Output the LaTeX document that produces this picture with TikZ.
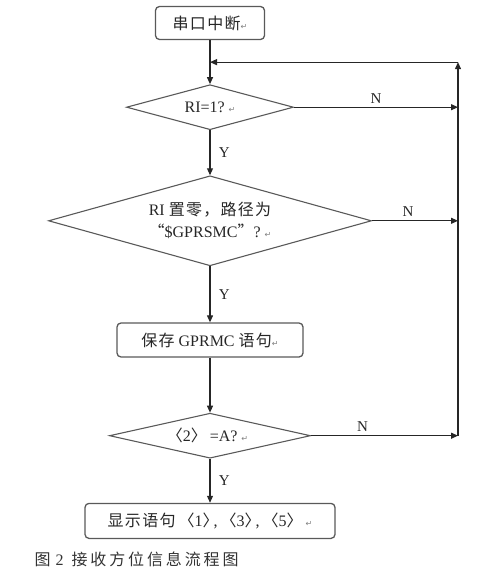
\documentclass[tikz,border=0pt]{standalone}
\usepackage{fontspec}
\setmainfont{Liberation Serif}
\newfontfamily\cjk[LetterSpace=8]{Noto Sans CJK SC}
\newfontfamily\cjkb{Noto Sans CJK SC}
\newfontfamily\capfont[LetterSpace=18]{Noto Sans CJK SC}
\newfontfamily\symfont{DejaVu Sans}
\usetikzlibrary{shapes.geometric, arrows.meta, positioning, calc}
\newcommand{\retmark}{{\symfont\fontsize{8}{8}\selectfont\color{gray}↵}}
\newcommand{\ang}[1]{\kern-5pt{\cjkb 〈}#1{\cjkb 〉}\kern-5pt}
\tikzset{
	procbox/.style={rectangle, rounded corners=4pt, draw=black!65,
		line width=1.3pt, minimum height=33pt, text=black!85,
		font=\fontsize{16}{18}\selectfont},
	decision/.style={diamond, draw=black!65, line width=1.1pt,
		inner sep=0pt, align=center, text=black!85,
		font=\fontsize{16}{22}\selectfont},
	myarrow/.style={-{Triangle[length=7pt,width=6pt]}, line width=1.1pt, black!85},
	yes/.style={right=5pt, font=\fontsize{15}{17}\selectfont, text=black!85},
	no/.style={above, font=\fontsize{15}{17}\selectfont, text=black!85}
}
\begin{document}
\begin{tikzpicture}
	\useasboundingbox (0,0) rectangle (478pt,-572pt);
	
	%% ---- Main column ----
	\node[procbox, minimum width=109pt] (start) at (210pt,-23pt)
	{{\cjk 串口中断}\retmark};
	\node[decision, minimum width=167pt, minimum height=45pt,
	shape aspect=3.7, below=44pt of start] (d1) {RI=1?\ \retmark};
	\node[decision, minimum width=323pt, minimum height=90pt,
	shape aspect=3.6, below=45pt of d1] (d2)
	{RI {\cjk 置零，路径为}\\{\cjkb “}\$GPRSMC{\cjkb ”}?\ \retmark};
	\node[procbox, minimum width=186pt, minimum height=34pt,
	below=56pt of d2] (save) {{\cjk 保存} GPRMC {\cjk 语句}\retmark};
	\node[decision, minimum width=201pt, minimum height=45pt,
	shape aspect=4.5, below=55pt of save] (d3) {\ang{2}\ \ =A?\ \retmark};
	\node[procbox, minimum width=250pt, minimum height=35pt,
	below=44pt of d3] (show)
	{{\cjk 显示语句}\ \ \ang{1},\ \ \ang{3},\ \ \ang{5}\ \ \retmark};
	
	%% ---- Caption ----
	\node[anchor=west, text=black!80, font=\fontsize{16}{18}\selectfont]
	(cap) at (31pt,-559pt)
	{{\capfont 图}\hspace{5pt}2\hspace{8pt}{\capfont 接收方位信息流程图}};
	
	%% ---- Loop-back coordinates ----
	\coordinate (join) at ($(start.south)!0.5!(d1.north)$);
	\coordinate (ret) at ([xshift=248pt]join);
	
	%% ---- Arrows: main flow ----
	\draw[myarrow] (start) -- (d1);
	\draw[myarrow] (d1) -- node[yes]{Y} (d2);
	\draw[myarrow] (d2) -- node[yes]{Y} (save);
	\draw[myarrow] (save) -- (d3);
	\draw[myarrow] (d3) -- node[yes]{Y} (show);
	
	%% ---- Arrows: N branches and loop ----
	\draw[myarrow] (d1.east) -- node[no]{N} (d1.east -| ret);
	\draw[myarrow] (d2.east) -- node[no, pos=0.42]{N} (d2.east -| ret);
	\draw[myarrow] (d3.east) -- node[no, pos=0.35]{N} (d3.east -| ret);
	\draw[myarrow] (d3.east -| ret) -- (ret);
	\draw[myarrow] (ret) -- (join);
	
\end{tikzpicture}
\end{document}
